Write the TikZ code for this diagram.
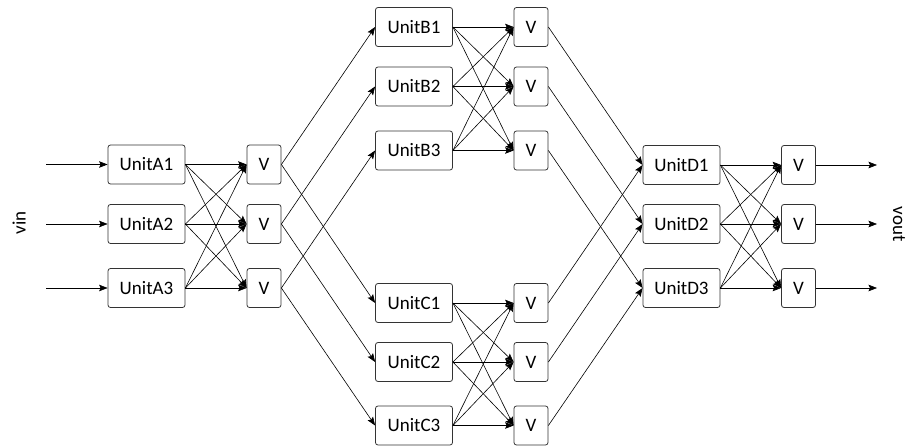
\documentclass[tikz,border=0pt]{standalone}
\usepackage{fontspec}
\setmainfont{Carlito}
\usetikzlibrary{arrows.meta}
\tikzset{
  box/.style={draw=black!80, line width=0.8pt, rounded corners=2.5pt, inner sep=0pt,
    minimum height=39pt, font=\fontsize{19}{22}\selectfont},
  unitbox/.style={box, minimum width=77pt},
  vbox/.style={box, minimum width=34pt},
  link/.style={line width=0.6pt, -{Stealth[length=8.5pt,width=6.5pt,inset=1.5pt]}},
  lbl/.style={font=\fontsize{19}{22}\selectfont}
}
\begin{document}
\begin{tikzpicture}[x=1pt,y=-1pt]
\useasboundingbox (0,0) rectangle (906,446);
% stage A and its V column
\foreach \i/\y in {1/164.5,2/224,3/288}{
  \node[unitbox] (A\i) at (146.5,\y) {UnitA\i};
  \node[vbox] (VA\i) at (264,\y) {V};
  \coordinate (in\i) at (46,\y);
}
% stage B
\foreach \i/\y in {1/27,2/86.5,3/150.5}{
  \node[unitbox] (B\i) at (414,\y) {UnitB\i};
  \node[vbox] (VB\i) at (531,\y) {V};
}
% stage C
\foreach \i/\y in {1/303,2/362,3/425.5}{
  \node[unitbox] (C\i) at (414,\y) {UnitC\i};
  \node[vbox] (VC\i) at (531,\y) {V};
}
% stage D
\foreach \i/\y in {1/165,2/224,3/288}{
  \node[unitbox] (D\i) at (681.5,\y) {UnitD\i};
  \node[vbox] (VD\i) at (798.5,\y) {V};
  \coordinate (out\i) at (877,\y);
}
\node[lbl, rotate=90] (vin) at (19,223) {vin};
\node[lbl, rotate=-90] (vout) at (899,224) {vout};
% inputs and outputs
\foreach \i in {1,2,3}{
  \draw[link] (in\i) -- (A\i.west);
  \draw[link] (VD\i.east) -- (out\i);
}
% full crossbars between each unit column and its V column
\foreach \s in {A,B,C,D}{
  \foreach \i in {1,2,3}{
    \foreach \j in {1,2,3}{
      \draw[link] (\s\i.east) -- (V\s\j.west);
    }
  }
}
% fan-out between stages
\foreach \i in {1,2,3}{
  \draw[link] (VA\i.east) -- (B\i.west);
  \draw[link] (VA\i.east) -- (C\i.west);
  \draw[link] (VB\i.east) -- (D\i.west);
  \draw[link] (VC\i.east) -- (D\i.west);
}
\end{tikzpicture}
\end{document}
